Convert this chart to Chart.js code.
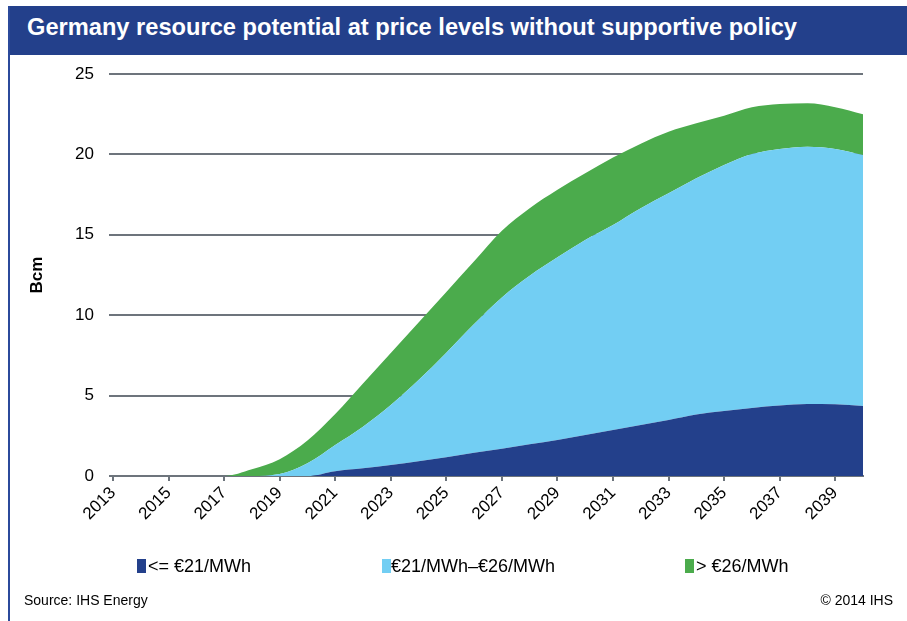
<!DOCTYPE html>
<html>
<head>
<meta charset="utf-8">
<script src="https://cdn.jsdelivr.net/npm/chart.js@4/dist/chart.umd.min.js"></script>
<style>
  html, body { margin: 0; padding: 0; background: #fff; }
  #wrap { position: relative; width: 907px; height: 621px; overflow: hidden; font-family: "Liberation Sans", Arial, sans-serif; }
  #leftline { position: absolute; left: 8px; top: 6px; width: 2px; height: 615px; background: #2b4a9b; }
  #titlebar { position: absolute; left: 8px; top: 6px; width: 899px; height: 49px; background: #23408b; }
  #title { position: absolute; left: 27px; top: 16px; color: #fff; font-weight: bold; font-size: 23px; white-space: pre; transform-origin: 0 0; line-height: 1; }
  #chartc { position: absolute; left: 0; top: 0; }
  .leg { position: absolute; top: 557px; font-size: 18px; color: #000; white-space: pre; line-height: 1; }
  .sw { position: absolute; top: 559px; width: 9px; height: 14px; }
  .foot { position: absolute; top: 593px; font-size: 14px; color: #000; white-space: pre; line-height: 1; }
</style>
</head>
<body>
<div id="wrap">
  <div id="titlebar"></div>
  <div id="leftline"></div>
  <div id="title">Germany resource potential at price levels without supportive policy</div>
  <canvas id="chartc" width="907" height="621"></canvas>
  <div class="sw" style="left:137px;background:#23408b"></div>
  <div class="leg" id="l1" style="left:148px">&lt;= €21/MWh</div>
  <div class="sw" style="left:382px;background:#72cef3"></div>
  <div class="leg" id="l2" style="left:391px">€21/MWh–€26/MWh</div>
  <div class="sw" style="left:685px;background:#4bab4c"></div>
  <div class="leg" id="l3" style="left:696px">&gt; €26/MWh</div>
  <div class="foot" style="left:24px">Source: IHS Energy</div>
  <div class="foot" style="right:14px">© 2014 IHS</div>
</div>
<script>
const years = ["2013","2014","2015","2016","2017","2018","2019","2020","2021","2022","2023","2024","2025","2026","2027","2028","2029","2030","2031","2032","2033","2034","2035","2036","2037","2038","2039","2040"];
const seriesNames = ["<= €21/MWh", "€21/MWh–€26/MWh", "> €26/MWh"];
const lowCost  = [0,0,0,0,0,0,0,0,0.30,0.48,0.68,0.92,1.16,1.44,1.70,1.97,2.24,2.55,2.86,3.17,3.48,3.82,4.04,4.23,4.38,4.48,4.46,4.35];
const midCost  = [0,0,0,0,0,0,0.12,0.79,1.63,2.59,3.74,5.05,6.51,8.01,9.40,10.48,11.36,12.13,12.75,13.48,14.10,14.69,15.30,15.79,15.96,16.00,15.88,15.61];
const highCost = [0,0,0,0,0,0.42,0.92,1.41,1.92,2.68,3.23,3.58,3.78,3.90,4.15,4.20,4.20,4.14,4.19,4.02,3.83,3.42,3.06,2.91,2.79,2.70,2.59,2.53];
const yTicks = [0,5,10,15,20,25];
const yTitle = "Bcm";

// fit title width
const t = document.getElementById('title');
const targetW = 770;
const w = t.getBoundingClientRect().width;
t.style.transform = 'scaleX(' + (targetW / w) + ')';

const colors = ["#23408b", "#72cef3", "#4bab4c"];
const gridGray = "#6d747c";
const font = { family: "'Liberation Sans', Arial, sans-serif", size: 17 };

new Chart(document.getElementById('chartc'), {
  type: 'line',
  data: {
    labels: years,
    datasets: [lowCost, midCost, highCost].map((d, i) => ({
      label: seriesNames[i],
      data: d,
      backgroundColor: colors[i],
      borderColor: colors[i],
      borderWidth: 0,
      pointRadius: 0,
      fill: i === 0 ? 'origin' : '-1',
      cubicInterpolationMode: 'monotone'
    }))
  },
  options: {
    responsive: false,
    animation: false,
    devicePixelRatio: 1,
    layout: { padding: { left: 20, right: 44, top: 74, bottom: 85 } },
    plugins: { legend: { display: false }, tooltip: { enabled: false } },
    scales: {
      x: {
        type: 'category',
        offset: false,
        afterFit: s => { s.height = 60; },
        border: { display: true, color: gridGray, width: 2 },
        grid: { display: true, drawOnChartArea: false, drawTicks: true, tickLength: 5, color: gridGray, lineWidth: 2 },
        ticks: {
          autoSkip: false, maxRotation: 45, minRotation: 45, padding: 2,
          color: '#000', font: font,
          callback: function(v, i) { const l = this.getLabelForValue(v); return (parseInt(l) % 2 === 1) ? l : null; }
        }
      },
      y: {
        stacked: true,
        min: 0, max: 25,
        afterFit: s => { s.width = 93; },
        afterBuildTicks: s => { s.ticks = yTicks.map(v => ({ value: v })); },
        border: { display: false },
        grid: { color: gridGray, lineWidth: 2, drawTicks: true, tickLength: 4 },
        ticks: { color: '#000', font: font, padding: 15 },
        title: { display: true, text: yTitle, color: '#000', font: { family: font.family, size: 17, weight: 'bold' }, padding: { top: 7, bottom: 0 } }
      }
    }
  }
});
</script>
</body>
</html>
